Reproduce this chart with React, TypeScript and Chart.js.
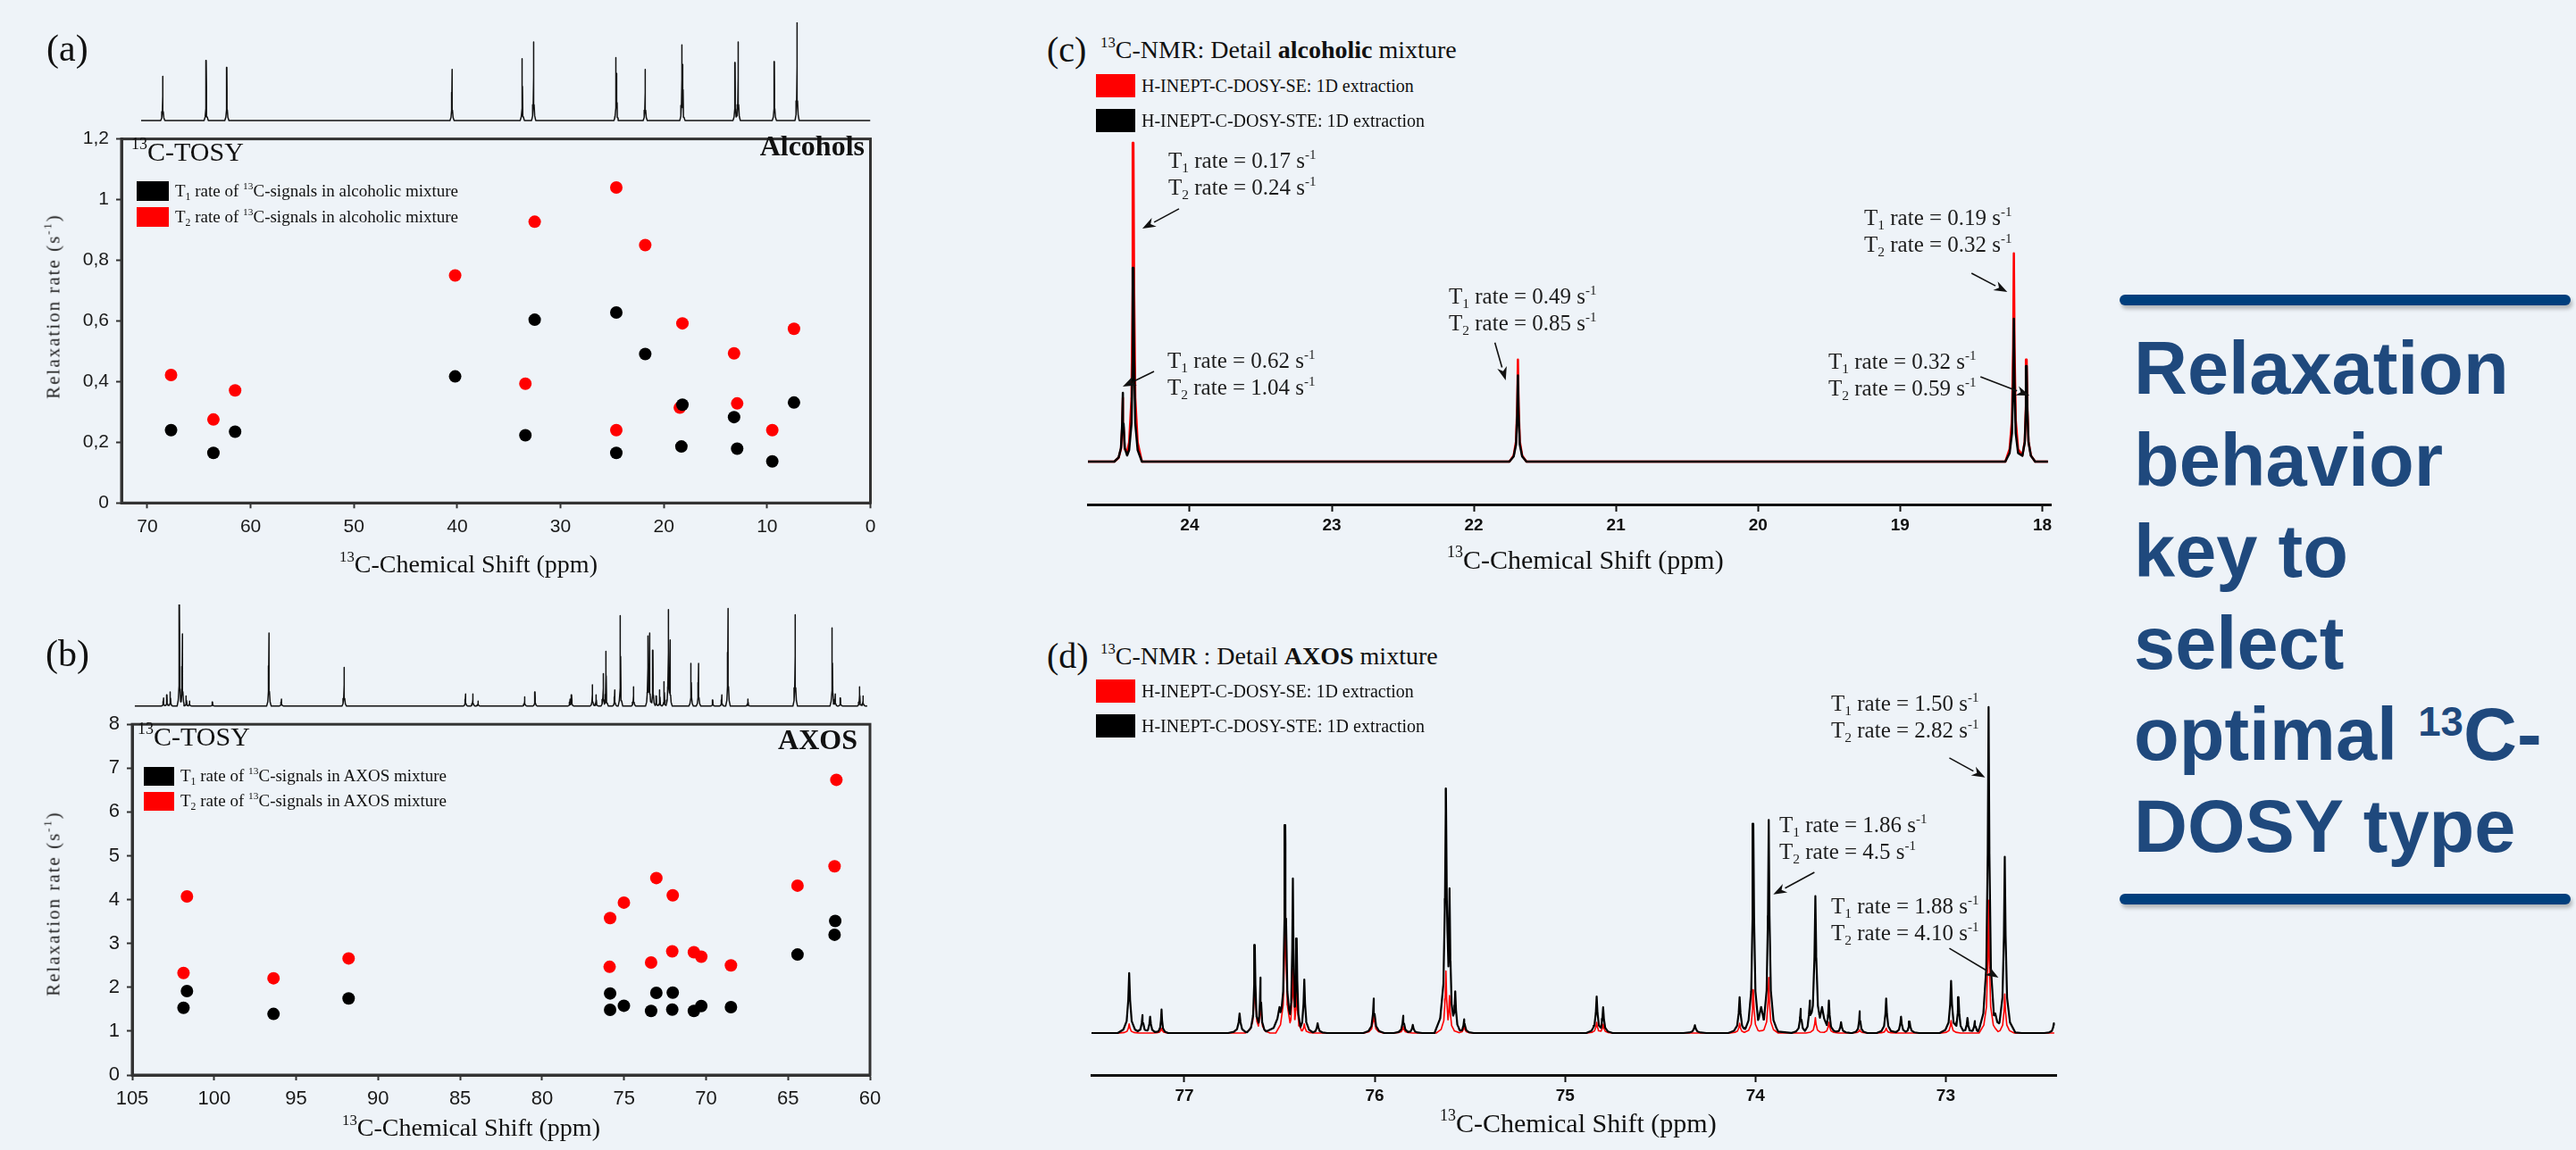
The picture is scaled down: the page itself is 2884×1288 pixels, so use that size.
import React, { useEffect, useRef } from 'react';
import { Chart, registerables } from 'chart.js';
Chart.register(...registerables);

const BG = '#eef3f8';
const SERIF = "'Liberation Serif', 'Times New Roman', serif";
const SANS = "'Liberation Sans', Arial, sans-serif";
const RED = '#ff0000';
const BLACK = '#000000';

// ---------- (a) Alcohols: 13C-TOSY relaxation rates ----------
const A_T1_SHIFT = [67.7, 63.6, 61.5, 40.2, 33.4, 32.5, 24.6, 24.6, 21.8, 18.2, 18.3, 13.2, 12.9, 9.5, 7.4];
const A_T1_RATE = [0.24, 0.165, 0.235, 0.417, 0.223, 0.604, 0.628, 0.165, 0.491, 0.324, 0.186, 0.283, 0.179, 0.137, 0.331];
const A_T2_SHIFT = [67.7, 63.6, 61.5, 40.2, 33.4, 32.5, 24.6, 24.6, 21.8, 18.2, 18.45, 13.2, 12.9, 9.5, 7.4];
const A_T2_RATE = [0.422, 0.275, 0.371, 0.75, 0.393, 0.927, 1.04, 0.24, 0.85, 0.592, 0.314, 0.493, 0.328, 0.24, 0.574];
const A_X_TICKS = [0, 10, 20, 30, 40, 50, 60, 70];
const A_Y_TICKS = [0, 0.2, 0.4, 0.6, 0.8, 1, 1.2];
// 1D 13C spectrum on top of (a): peak shift (ppm) and relative height
const A_PEAK_PPM = [68.5, 64.3, 62.3, 40.5, 33.7, 32.6, 24.62, 24.55, 21.8, 18.25, 18.15, 13.1, 12.8, 9.3, 7.1];
const A_PEAK_INT = [45, 61, 54, 52, 63, 80, 64, 48, 52, 77, 57, 59, 80, 60, 100];

// ---------- (b) AXOS: 13C-TOSY relaxation rates ----------
const B_T1_SHIFT = [101.87, 101.66, 96.38, 91.8, 75.85, 75.85, 75.01, 73.35, 73.03, 72.06, 72.03, 70.74, 70.29, 68.48, 64.42, 62.16, 62.12];
const B_T1_RATE = [1.533, 1.913, 1.393, 1.747, 1.86, 1.487, 1.58, 1.46, 1.873, 1.493, 1.88, 1.46, 1.573, 1.547, 2.747, 3.2, 3.513];
const B_T2_SHIFT = [101.87, 101.66, 96.38, 91.8, 75.85, 75.88, 75.01, 73.35, 73.03, 72.06, 72.03, 70.74, 70.29, 68.48, 64.42, 62.16, 62.05];
const B_T2_RATE = [2.327, 4.073, 2.207, 2.66, 3.58, 2.467, 3.933, 2.567, 4.493, 2.82, 4.1, 2.8, 2.7, 2.5, 4.32, 4.76, 6.733];
const B_X_TICKS = [60, 65, 70, 75, 80, 85, 90, 95, 100, 105];
const B_Y_TICKS = [0, 1, 2, 3, 4, 5, 6, 7, 8];
const B_PEAK_PPM = [103.09, 102.88, 102.67, 102.12, 101.94, 101.7, 101.5, 100.1, 96.66, 95.9, 92.07, 84.67, 84.22, 83.9, 81.06, 80.43, 78.3, 78.2, 76.93, 76.7, 76.27, 76.1, 75.57, 75.22, 74.42, 73.55, 73.45, 73.24, 73.03, 72.82, 72.55, 72.3, 72.2, 70.91, 70.46, 69.59, 69.04, 68.66, 67.44, 64.56, 62.3, 62.12, 61.8, 60.63, 60.42];
const B_PEAK_INT = [8, 11, 14, 100, 71, 10, 5, 4, 72, 7, 38, 12, 12, 5, 9, 14, 7, 11, 21, 11, 32, 54, 16, 89, 19, 69, 72, 55, 10, 16, 24, 95, 65, 42, 42, 6, 11, 96, 7, 90, 77, 12, 8, 19, 10];

// ---------- (c) alcohol detail spectrum ----------
const C_PEAK_PPM = [24.47, 24.396, 21.69, 18.2, 18.11];
const C_SE_INT = [20, 100, 32, 65.3, 32];
const C_STE_INT = [21.6, 60.8, 27, 44.8, 30];
const C_X_TICKS = [18, 19, 20, 21, 22, 23, 24];
const C_NOTES = [
  { t1: '0.17', t2: '0.24' },
  { t1: '0.62', t2: '1.04' },
  { t1: '0.49', t2: '0.85' },
  { t1: '0.19', t2: '0.32' },
  { t1: '0.32', t2: '0.59' },
];
// arrows: [fromPpm, fromInt, toPpm, toInt]
const C_ARROWS = [
  [24.075, 79.3, 24.333, 73.1],
  [24.251, 28.3, 24.471, 23.5],
  [21.852, 37.3, 21.776, 25.5],
  [18.498, 59.1, 18.246, 53.2],
  [18.435, 26.6, 18.09, 20.7],
];

// ---------- (d) AXOS detail spectrum ----------
const D_STE_PPM = [77.29, 77.22, 77.18, 77.12, 76.71, 76.63, 76.6, 76.5, 76.47, 76.43, 76.41, 76.37, 76.3, 76.005, 75.85, 75.8, 75.626, 75.607, 75.577, 75.53, 74.834, 74.8, 74.318, 74.083, 73.97, 74.011, 73.93, 73.762, 73.715, 73.685, 73.65, 73.614, 73.55, 73.452, 73.313, 73.235, 73.19, 72.972, 72.933, 72.886, 72.847, 72.775, 72.74, 72.69, 72.432];
const D_STE_INT = [18.4, 5.5, 5, 7.2, 6, 27, 17, 8, 63.8, 47.4, 29, 16.4, 3, 10.6, 5.3, 2.5, 75, 44.4, 12.8, 4.2, 11.2, 7.9, 2.4, 11, 8, 64.2, 65.4, 7.4, 10, 42, 8, 10, 3.3, 6.7, 10.6, 5, 3.5, 16, 11, 4.6, 3.7, 100, 6, 54.1, 3];
const D_STE_W = [0.06, 0.05, 0.05, 0.035, 0.06, 0.04, 0.04, 0.14, 0.05, 0.04, 0.04, 0.05, 0.05, 0.055, 0.05, 0.05, 0.06, 0.05, 0.05, 0.05, 0.055, 0.05, 0.06, 0.06, 0.16, 0.05, 0.05, 0.05, 0.05, 0.06, 0.14, 0.05, 0.05, 0.04, 0.05, 0.05, 0.05, 0.06, 0.05, 0.05, 0.05, 0.055, 0.14, 0.055, 0.05];
const D_SE_PPM = [77.29, 77.12, 76.63, 76.6, 76.47, 76.43, 76.41, 76.37, 76.005, 75.85, 75.626, 75.607, 75.53, 74.834, 74.8, 74.083, 74.011, 73.93, 73.685, 73.614, 73.452, 73.313, 72.972, 72.775, 72.69];
const D_SE_INT = [2.8, 1.4, 17.9, 10, 43, 19.7, 13.8, 2.8, 6.6, 2, 19, 11.5, 2, 3.3, 2.7, 3, 13.3, 17, 4.7, 3.3, 1, 1.5, 3.8, 40.7, 12];
const D_X_TICKS = [73, 74, 75, 76, 77];
const D_NOTES = [
  { t1: '1.50', t2: '2.82' },
  { t1: '1.86', t2: '4.5' },
  { t1: '1.88', t2: '4.10' },
];
const D_ARROWS = [
  [72.981, 84.4, 72.793, 78.4],
  [73.69, 49.3, 73.906, 42.5],
  [72.981, 26.0, 72.723, 17.0],
];

// line-shape template for drawing a read peak (offset in half-widths, fraction of height)
const SHAPE: number[][] = [[-1, 0], [-0.5, 0.06], [-0.22, 0.2], [-0.08, 0.55], [0, 1], [0.08, 0.55], [0.22, 0.2], [0.5, 0.06], [1, 0]];

function spectrumPoints(ppm: number[], inten: number[], widths: number[] | number, from: number, to: number) {
  const lo = Math.min(from, to);
  const hi = Math.max(from, to);
  const wOf = (i: number) => (Array.isArray(widths) ? widths[i] : widths);
  const xs = new Set<number>([lo, hi]);
  ppm.forEach((p, i) => SHAPE.forEach(([d]) => xs.add(+(p + d * wOf(i)).toFixed(5))));
  const sorted = [...xs].filter((x) => x >= lo && x <= hi).sort((a, b) => a - b);
  return sorted.map((x) => {
    let y = 0;
    ppm.forEach((p, i) => {
      const d = (x - p) / wOf(i);
      if (Math.abs(d) >= 1) return;
      for (let k = 0; k < SHAPE.length - 1; k++) {
        const [x0, y0] = SHAPE[k];
        const [x1, y1] = SHAPE[k + 1];
        if (d >= x0 && d <= x1) {
          const v = (y0 + ((y1 - y0) * (d - x0)) / (x1 - x0)) * inten[i];
          if (v > y) y = v;
          break;
        }
      }
    });
    return { x, y };
  });
}

const framePlugin = {
  id: 'frame',
  beforeDatasetsDraw(chart: any) {
    const { ctx, chartArea: a } = chart;
    ctx.save();
    ctx.strokeStyle = '#333';
    ctx.lineWidth = 3;
    ctx.strokeRect(a.left, a.top, a.right - a.left, a.bottom - a.top);
    ctx.restore();
  },
};

function arrowPlugin(arrows: number[][]) {
  return {
    id: 'arrows',
    afterDatasetsDraw(chart: any) {
      const { ctx } = chart;
      const xs = chart.scales.x;
      const ys = chart.scales.y;
      ctx.save();
      ctx.strokeStyle = '#111';
      ctx.fillStyle = '#111';
      ctx.lineWidth = 1.6;
      arrows.forEach(([x0, y0, x1, y1]) => {
        const px0 = xs.getPixelForValue(x0);
        const py0 = ys.getPixelForValue(y0);
        const px1 = xs.getPixelForValue(x1);
        const py1 = ys.getPixelForValue(y1);
        const ang = Math.atan2(py1 - py0, px1 - px0);
        const L = 15;
        const W = 5.5;
        const bx = px1 - L * Math.cos(ang);
        const by = py1 - L * Math.sin(ang);
        ctx.beginPath();
        ctx.moveTo(px0, py0);
        ctx.lineTo(bx, by);
        ctx.stroke();
        ctx.beginPath();
        ctx.moveTo(px1, py1);
        ctx.lineTo(bx + W * Math.sin(ang), by - W * Math.cos(ang));
        ctx.lineTo(px1 - 0.7 * L * Math.cos(ang), py1 - 0.7 * L * Math.sin(ang));
        ctx.lineTo(bx - W * Math.sin(ang), by + W * Math.cos(ang));
        ctx.closePath();
        ctx.fill();
      });
      ctx.restore();
    },
  };
}

type Box = { left: number; top: number; width: number; height: number };

function ChartCanvas({ box, make }: { box: Box; make: () => any }) {
  const ref = useRef<HTMLCanvasElement>(null);
  useEffect(() => {
    const chart = new Chart(ref.current as HTMLCanvasElement, make());
    return () => chart.destroy();
  }, []);
  return (
    <canvas
      ref={ref}
      width={box.width}
      height={box.height}
      style={{ position: 'absolute', left: box.left, top: box.top, width: box.width, height: box.height }}
    />
  );
}

function scatterConfig(opts: {
  t1x: number[]; t1y: number[]; t2x: number[]; t2y: number[];
  xmin: number; xmax: number; ymin: number; ymax: number;
  xTicks: number[]; yTicks: number[]; yAxisW: number; xAxisH: number;
  pad: { top: number; right: number }; fmt: (v: number) => string; fontSize: number;
}) {
  const tickFont = { family: SANS, size: opts.fontSize };
  return {
    type: 'scatter',
    data: {
      datasets: [
        { label: 'T1', data: opts.t1x.map((x, i) => ({ x, y: opts.t1y[i] })), backgroundColor: BLACK, borderColor: BLACK, pointRadius: 7, pointBorderWidth: 0 },
        { label: 'T2', data: opts.t2x.map((x, i) => ({ x, y: opts.t2y[i] })), backgroundColor: RED, borderColor: RED, pointRadius: 7, pointBorderWidth: 0 },
      ],
    },
    options: {
      animation: false,
      responsive: false,
      devicePixelRatio: 1,
      layout: { padding: { top: opts.pad.top, right: opts.pad.right, left: 0, bottom: 0 } },
      plugins: { legend: { display: false }, tooltip: { enabled: false } },
      scales: {
        x: {
          type: 'linear', reverse: true, min: opts.xmin, max: opts.xmax,
          afterBuildTicks: (s: any) => { s.ticks = opts.xTicks.map((v) => ({ value: v })); },
          afterFit: (s: any) => { s.height = opts.xAxisH; },
          grid: { drawOnChartArea: false, drawTicks: true, tickLength: 6, tickWidth: 2, color: '#333' },
          border: { display: true, color: '#333', width: 3 },
          ticks: { font: tickFont, color: '#1a1a1a', padding: 8, maxRotation: 0, autoSkip: false, callback: (v: number) => String(v) },
        },
        y: {
          type: 'linear', min: opts.ymin, max: opts.ymax,
          afterBuildTicks: (s: any) => { s.ticks = opts.yTicks.map((v) => ({ value: v })); },
          afterFit: (s: any) => { s.width = opts.yAxisW; },
          grid: { drawOnChartArea: false, drawTicks: true, tickLength: 6, tickWidth: 2, color: '#333' },
          border: { display: true, color: '#333', width: 3 },
          ticks: { font: tickFont, color: '#1a1a1a', padding: 8, autoSkip: false, callback: (v: number) => opts.fmt(v) },
        },
      },
    },
    plugins: [framePlugin],
  };
}

function spectrumConfig(opts: {
  series: { pts: { x: number; y: number }[]; color: string; width: number }[];
  xmin: number; xmax: number; ymin: number; ymax: number;
  pad: { top: number; right: number; left: number; bottom: number };
  xTicks?: number[]; xAxisH?: number; arrows?: number[][];
}) {
  const showX = !!opts.xTicks;
  return {
    type: 'line',
    data: {
      datasets: opts.series.map((s) => ({
        data: s.pts, borderColor: s.color, borderWidth: s.width, pointRadius: 0, tension: 0, fill: false,
        borderJoinStyle: 'round',
      })),
    },
    options: {
      animation: false,
      responsive: false,
      devicePixelRatio: 1,
      layout: { padding: opts.pad },
      plugins: { legend: { display: false }, tooltip: { enabled: false } },
      scales: {
        x: showX
          ? {
              type: 'linear', reverse: true, min: opts.xmin, max: opts.xmax,
              afterBuildTicks: (s: any) => { s.ticks = (opts.xTicks as number[]).map((v) => ({ value: v })); },
              afterFit: (s: any) => { s.height = opts.xAxisH; },
              grid: { drawOnChartArea: false, drawTicks: true, tickLength: 8, tickWidth: 2, color: '#111' },
              border: { display: true, color: '#111', width: 3 },
              ticks: { font: { family: SANS, size: 19, weight: 'bold' }, color: '#111', padding: 4, maxRotation: 0, autoSkip: false, callback: (v: number) => String(v) },
            }
          : { type: 'linear', reverse: true, min: opts.xmin, max: opts.xmax, display: false },
        y: { type: 'linear', min: opts.ymin, max: opts.ymax, display: false },
      },
    },
    plugins: opts.arrows ? [arrowPlugin(opts.arrows)] : [],
  };
}

const SUP: React.CSSProperties = { fontSize: '0.6em', verticalAlign: '0.7em', lineHeight: 0 };
const SUB: React.CSSProperties = { fontSize: '0.62em', verticalAlign: '-0.35em', lineHeight: 0 };

function Txt({ left, top, size, bold, children, style }: any) {
  return (
    <div style={{ position: 'absolute', left, top, font: `${bold ? 'bold ' : ''}${size}px ${SERIF}`, lineHeight: 1, whiteSpace: 'nowrap', color: '#111', ...style }}>
      {children}
    </div>
  );
}

function Rate({ left, top, t1, t2 }: { left: number; top: number; t1: string; t2: string }) {
  return (
    <div style={{ position: 'absolute', left, top, font: `25px ${SERIF}`, lineHeight: '30px', whiteSpace: 'nowrap', color: '#1c1c1c' }}>
      <div>T<sub style={SUB}>1</sub> rate = {t1} s<sup style={SUP}>-1</sup></div>
      <div>T<sub style={SUB}>2</sub> rate = {t2} s<sup style={SUP}>-1</sup></div>
    </div>
  );
}

function Swatch({ left, top, w, h, color }: any) {
  return <div style={{ position: 'absolute', left, top, width: w, height: h, background: color }} />;
}

function YLabel({ cx, cy }: { cx: number; cy: number }) {
  return (
    <div style={{ position: 'absolute', left: cx, top: cy, transform: 'translate(-50%, -50%) rotate(-90deg)', font: `21px ${SERIF}`, letterSpacing: '2px', whiteSpace: 'nowrap', lineHeight: 1, color: '#222' }}>
      Relaxation rate (s<sup style={SUP}>-1</sup>)
    </div>
  );
}

const fmtComma = (v: number) => String(v).replace('.', ',');

export default function App() {
  const boxA = { left: 60, top: 135, width: 930, height: 480 };
  const boxASpec = { left: 60, top: 20, width: 930, height: 125 };
  const boxB = { left: 60, top: 790, width: 930, height: 490 };
  const boxBSpec = { left: 60, top: 665, width: 930, height: 130 };
  const boxC = { left: 1150, top: 140, width: 1180, height: 520 };
  const boxD = { left: 1150, top: 780, width: 1180, height: 508 };

  return (
    <div style={{ position: 'fixed', left: 0, top: 0, width: 2884, height: 1288, background: BG, overflow: 'hidden', fontFamily: SERIF, color: '#111' }}>
      {/* ---------- (a) ---------- */}
      <ChartCanvas
        box={boxASpec}
        make={() => spectrumConfig({
          series: [{ pts: spectrumPoints(A_PEAK_PPM, A_PEAK_INT, 0.2, 70.6, 0), color: '#111', width: 1.5 }],
          xmin: 0, xmax: 72.5, ymin: -1, ymax: 100,
          pad: { top: 5, right: 15.5, left: 76, bottom: 9 },
        })}
      />
      <ChartCanvas
        box={boxA}
        make={() => scatterConfig({
          t1x: A_T1_SHIFT, t1y: A_T1_RATE, t2x: A_T2_SHIFT, t2y: A_T2_RATE,
          xmin: 0, xmax: 72.5, ymin: 0, ymax: 1.2, xTicks: A_X_TICKS, yTicks: A_Y_TICKS,
          yAxisW: 76, xAxisH: 51.7, pad: { top: 10, right: 15.5 }, fmt: fmtComma, fontSize: 21,
        })}
      />
      <Txt left={52} top={33} size={42}>(a)</Txt>
      <Txt left={147} top={155} size={30}><sup style={SUP}>13</sup>C-TOSY</Txt>
      <Txt left={0} top={147} size={32} bold style={{ width: 968, textAlign: 'right' }}>Alcohols</Txt>
      <Swatch left={153} top={203} w={36} h={22} color={BLACK} />
      <Swatch left={153} top={232} w={36} h={22} color={RED} />
      <Txt left={196} top={204} size={19}>T<sub style={SUB}>1</sub> rate of <sup style={SUP}>13</sup>C-signals in alcoholic mixture</Txt>
      <Txt left={196} top={233} size={19}>T<sub style={SUB}>2</sub> rate of <sup style={SUP}>13</sup>C-signals in alcoholic mixture</Txt>
      <YLabel cx={60} cy={343} />
      <Txt left={380} top={618} size={28}><sup style={SUP}>13</sup>C-Chemical Shift (ppm)</Txt>

      {/* ---------- (b) ---------- */}
      <ChartCanvas
        box={boxBSpec}
        make={() => spectrumConfig({
          series: [{ pts: spectrumPoints(B_PEAK_PPM, B_PEAK_INT, 0.14, 104.84, 60.17), color: '#111', width: 1.5 }],
          xmin: 60, xmax: 105, ymin: -1, ymax: 100,
          pad: { top: 12, right: 16, left: 88, bottom: 3 },
        })}
      />
      <ChartCanvas
        box={boxB}
        make={() => scatterConfig({
          t1x: B_T1_SHIFT, t1y: B_T1_RATE, t2x: B_T2_SHIFT, t2y: B_T2_RATE,
          xmin: 60, xmax: 105, ymin: 0, ymax: 8, xTicks: B_X_TICKS, yTicks: B_Y_TICKS,
          yAxisW: 88, xAxisH: 76, pad: { top: 14, right: 16 }, fmt: (v) => String(v), fontSize: 22,
        })}
      />
      <Txt left={51} top={711} size={42}>(b)</Txt>
      <Txt left={154} top={810} size={30}><sup style={SUP}>13</sup>C-TOSY</Txt>
      <Txt left={0} top={812} size={32} bold style={{ width: 960, textAlign: 'right' }}>AXOS</Txt>
      <Swatch left={161} top={859} w={34} h={21} color={BLACK} />
      <Swatch left={161} top={887} w={34} h={21} color={RED} />
      <Txt left={202} top={859} size={19}>T<sub style={SUB}>1</sub> rate of <sup style={SUP}>13</sup>C-signals in AXOS mixture</Txt>
      <Txt left={202} top={887} size={19}>T<sub style={SUB}>2</sub> rate of <sup style={SUP}>13</sup>C-signals in AXOS mixture</Txt>
      <YLabel cx={60} cy={1012} />
      <Txt left={383} top={1249} size={28}><sup style={SUP}>13</sup>C-Chemical Shift (ppm)</Txt>

      {/* ---------- (c) ---------- */}
      <ChartCanvas
        box={boxC}
        make={() => spectrumConfig({
          series: [
            { pts: spectrumPoints(C_PEAK_PPM, C_STE_INT, 0.06, 24.716, 17.96), color: BLACK, width: 2.5 },
            { pts: spectrumPoints(C_PEAK_PPM, C_SE_INT, 0.06, 24.716, 17.96), color: RED, width: 2.5 },
          ],
          xmin: 17.94, xmax: 24.716, ymin: -13.45, ymax: 102.8,
          pad: { top: 10, right: 34, left: 68, bottom: 0 },
          xTicks: C_X_TICKS, xAxisH: 95, arrows: C_ARROWS,
        })}
      />
      <Txt left={1172} top={36} size={40}>(c)</Txt>
      <Txt left={1232} top={42} size={28}><sup style={SUP}>13</sup>C-NMR: Detail <b>alcoholic</b> mixture</Txt>
      <Swatch left={1227} top={83} w={44} h={26} color={RED} />
      <Swatch left={1227} top={122} w={44} h={26} color={BLACK} />
      <Txt left={1278} top={86} size={20}>H-INEPT-C-DOSY-SE: 1D extraction</Txt>
      <Txt left={1278} top={125} size={20}>H-INEPT-C-DOSY-STE: 1D extraction</Txt>
      <Rate left={1308} top={165} {...C_NOTES[0]} />
      <Rate left={1307} top={389} {...C_NOTES[1]} />
      <Rate left={1622} top={317} {...C_NOTES[2]} />
      <Rate left={2087} top={229} {...C_NOTES[3]} />
      <Rate left={2047} top={390} {...C_NOTES[4]} />
      <Txt left={1620} top={612} size={30}><sup style={SUP}>13</sup>C-Chemical Shift (ppm)</Txt>

      {/* ---------- (d) ---------- */}
      <ChartCanvas
        box={boxD}
        make={() => spectrumConfig({
          series: [
            { pts: spectrumPoints(D_STE_PPM, D_STE_INT, D_STE_W, 77.488, 72.43), color: BLACK, width: 2.2 },
            { pts: spectrumPoints(D_SE_PPM, D_SE_INT, 0.05, 77.488, 72.43), color: RED, width: 1.6 },
          ],
          xmin: 72.42, xmax: 77.488, ymin: -12.88, ymax: 101.9,
          pad: { top: 5, right: 28, left: 72, bottom: 0 },
          xTicks: D_X_TICKS, xAxisH: 84, arrows: D_ARROWS,
        })}
      />
      <Txt left={1172} top={715} size={40}>(d)</Txt>
      <Txt left={1232} top={721} size={28}><sup style={SUP}>13</sup>C-NMR : Detail <b>AXOS</b> mixture</Txt>
      <Swatch left={1227} top={761} w={44} h={26} color={RED} />
      <Swatch left={1227} top={800} w={44} h={26} color={BLACK} />
      <Txt left={1278} top={764} size={20}>H-INEPT-C-DOSY-SE: 1D extraction</Txt>
      <Txt left={1278} top={803} size={20}>H-INEPT-C-DOSY-STE: 1D extraction</Txt>
      <Rate left={2050} top={773} {...D_NOTES[0]} />
      <Rate left={1992} top={909} {...D_NOTES[1]} />
      <Rate left={2050} top={1000} {...D_NOTES[2]} />
      <Txt left={1612} top={1243} size={30}><sup style={SUP}>13</sup>C-Chemical Shift (ppm)</Txt>

      {/* ---------- right text panel ---------- */}
      <div style={{ position: 'absolute', left: 2373, top: 330, width: 505, height: 12, borderRadius: 6, background: '#003f7d', boxShadow: '2px 4px 4px rgba(0,0,0,0.25)' }} />
      <div style={{ position: 'absolute', left: 2389, top: 362, font: `bold 83px ${SANS}`, lineHeight: '102.6px', color: '#1f497d', whiteSpace: 'nowrap' }}>
        <div>Relaxation</div>
        <div>behavior</div>
        <div>key to</div>
        <div>select</div>
        <div>optimal <sup style={{ fontSize: '0.55em', verticalAlign: '0.6em', lineHeight: 0 }}>13</sup>C-</div>
        <div>DOSY type</div>
      </div>
      <div style={{ position: 'absolute', left: 2373, top: 1001, width: 505, height: 12, borderRadius: 6, background: '#003f7d', boxShadow: '2px 4px 4px rgba(0,0,0,0.25)' }} />
    </div>
  );
}
